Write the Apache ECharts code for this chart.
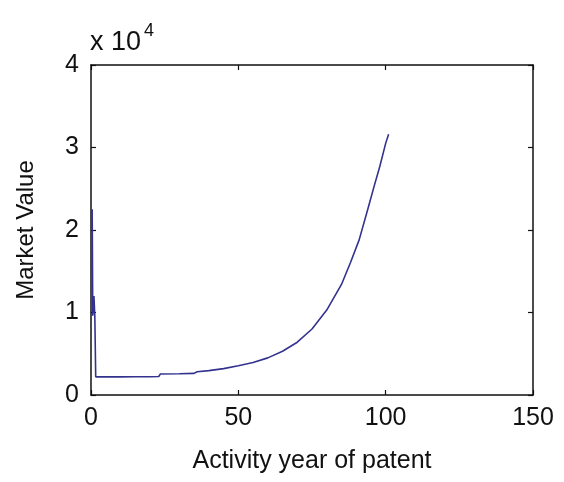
<!DOCTYPE html>
<html><head><meta charset="utf-8">
<script src="https://cdn.jsdelivr.net/npm/echarts@6/dist/echarts.min.js"></script>
<style>html,body{margin:0;padding:0;background:#fff}#c{width:564px;height:482px}</style>
</head><body><div id="c"></div>
<script>
var years = [0.4, 0.6, 1.0, 1.3, 1.6, 5, 10, 15, 20, 23, 23.5, 30, 35, 36, 40, 45, 50, 55, 60, 65, 70, 75, 80, 85, 88, 91, 94, 96, 98, 100, 101];
var values = [22500, 9600, 12000, 9500, 2200, 2200, 2200, 2210, 2220, 2240, 2540, 2580, 2620, 2820, 2950, 3200, 3550, 3950, 4500, 5300, 6400, 8000, 10300, 13400, 16000, 18800, 22600, 25200, 27700, 30500, 31600];
var xTicks = [0, 50, 100, 150];
var yTicks = [0, 10000, 20000, 30000, 40000];

var pts = years.map(function(x, i){ return [x, values[i]]; });
var font = 'Liberation Sans, Arial, sans-serif';
var chart = echarts.init(document.getElementById('c'));
function base(){
  return {
    axisLine: {show: true, onZero: false, lineStyle: {color: '#111', width: 1.5}},
    axisTick: {show: true, inside: true, length: 5, lineStyle: {color: '#111', width: 1.2}},
    splitLine: {show: false}
  };
}
chart.setOption({
  animation: false,
  backgroundColor: '#fff',
  grid: {left: 91, top: 65, right: 31, bottom: 87},
  xAxis: [
    Object.assign(base(), {type: 'value', min: xTicks[0], max: xTicks[xTicks.length-1], interval: 50, position: 'bottom',
      name: 'Activity year of patent', nameLocation: 'middle', nameGap: 54,
      nameTextStyle: {fontFamily: font, fontSize: 25, color: '#111'},
      axisLabel: {fontFamily: font, fontSize: 25, color: '#111', margin: 11}}),
    Object.assign(base(), {type: 'value', min: xTicks[0], max: xTicks[xTicks.length-1], interval: 50, position: 'top',
      axisLabel: {show: false}})
  ],
  yAxis: [
    Object.assign(base(), {type: 'value', min: yTicks[0], max: yTicks[yTicks.length-1], interval: 10000, position: 'left',
      name: 'Market Value', nameLocation: 'middle', nameGap: 53, nameRotate: 90,
      nameTextStyle: {fontFamily: font, fontSize: 24, color: '#111'},
      axisLabel: {fontFamily: font, fontSize: 25, color: '#111', margin: 12,
        formatter: function(v){ return String(v/10000); }}}),
    Object.assign(base(), {type: 'value', min: yTicks[0], max: yTicks[yTicks.length-1], interval: 10000, position: 'right',
      axisLabel: {show: false}})
  ],
  graphic: [{
    type: 'text', left: 90, top: 22,
    style: {
      text: '{a|x 10}{s|4}',
      rich: {
        a: {fontFamily: font, fontSize: 27, fill: '#111', verticalAlign: 'bottom'},
        s: {fontFamily: font, fontSize: 18, fill: '#111', verticalAlign: 'top', padding: [0,0,16,3]}
      }
    }
  }],
  series: [{
    type: 'line', data: pts, showSymbol: false, smooth: false,
    lineStyle: {color: '#33338f', width: 1.6}, itemStyle: {color: '#33338f'}
  }]
});
</script></body></html>
